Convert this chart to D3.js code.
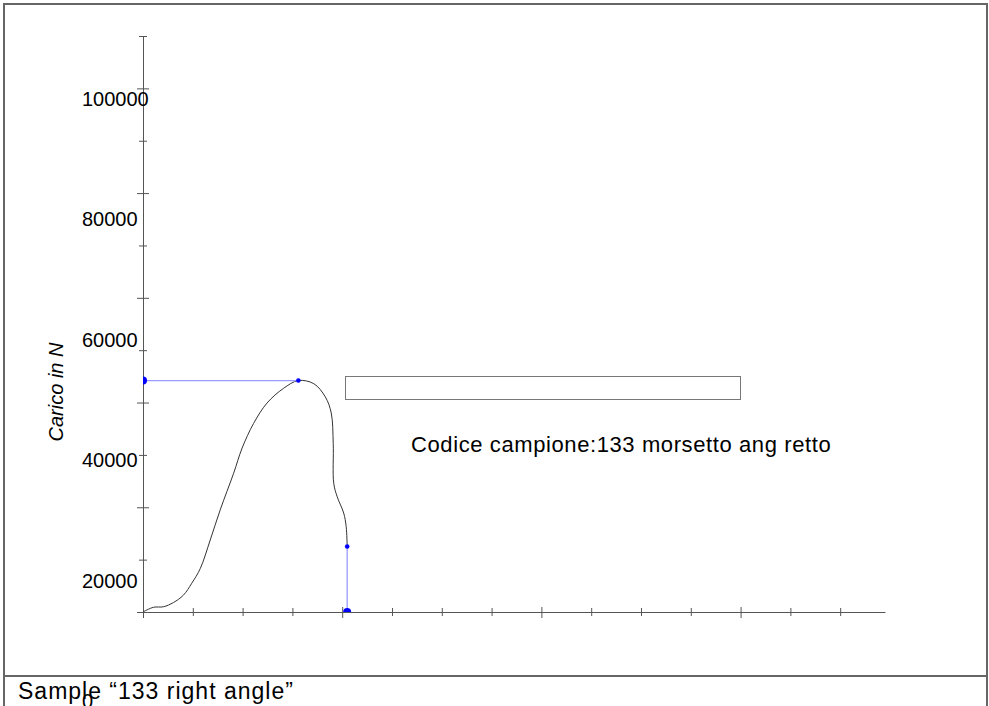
<!DOCTYPE html>
<html>
<head>
<meta charset="utf-8">
<script src="https://cdn.jsdelivr.net/npm/d3@7/dist/d3.min.js"></script>
<style>
  body { margin: 0; background: #fff; }
  svg { display: block; font-family: "Liberation Sans", Arial, Helvetica, sans-serif; }
</style>
</head>
<body>
<script>
// curve: elongation (axis units) vs load (N)
const elongation = [0, 0.21, 0.41, 0.61, 0.81, 0.98, 1.15, 1.35, 1.55, 1.82, 1.99, 2.22, 2.49, 2.82, 3.12,
  3.43, 3.66, 3.78, 3.82, 3.83, 3.90, 4.03, 4.08, 4.10];
const load = [0, 900, 1000, 1800, 3200, 5500, 8300, 13750, 19500, 26500, 31300, 36000, 39900, 42700, 44200,
  43600, 41100, 38000, 32200, 24600, 22000, 18900, 16300, 12500];
const peak = [3.12, 44200];
const rupture = [4.10, 12500];
const loadTicks = [0, 10000, 20000, 30000, 40000, 50000, 60000, 70000, 80000, 90000, 100000, 110000];
const loadLabels = [0, 20000, 40000, 60000, 80000, 100000];
const xTicks = [0, 1, 2, 3, 4, 5, 6, 7, 8, 9, 10, 11, 12, 13, 14];
const yTitle = "Carico in N";
const sampleCode = "Codice campione:133 morsetto ang retto";
const caption = "Sample \u201c133 right angle\u201d";

const w = 989;
const h = 706;
const svg = d3.select("body").append("svg").attr("width", w).attr("height", h);

const xScale = d3.scaleLinear().domain([0, 14.9]).range([143, 885]);
const yScale = d3.scaleLinear().domain([0, 110000]).range([612, 36]);
// the labels in the original sit on their own, slightly stretched, spacing
const labelScale = d3.scaleLinear().domain([0, 100000]).range([708, 106]);

// frame
svg.append("rect").attr("x", 4).attr("y", 4).attr("width", 983).attr("height", 720)
  .attr("fill", "none").attr("stroke", "#666").attr("stroke-width", 2);
svg.append("line").attr("x1", 4).attr("x2", 987).attr("y1", 676).attr("y2", 676)
  .attr("stroke", "#666").attr("stroke-width", 2);

// axes
const yAxis = svg.append("g").attr("transform", "translate(143,0)").attr("color", "#555")
  .call(d3.axisLeft(yScale).tickValues(loadTicks).tickSizeOuter(0).tickFormat(""));
yAxis.selectAll(".tick line")
  .attr("x1", (d) => (d % 20000 === 0 ? 6 : 4))
  .attr("x2", (d) => (d % 20000 === 0 ? -6 : -4));

const xAxis = svg.append("g").attr("transform", "translate(0,612)").attr("color", "#555")
  .call(d3.axisBottom(xScale).tickValues(xTicks).tickSizeOuter(0).tickFormat(""));
xAxis.selectAll(".tick line")
  .attr("y1", (d) => (d % 4 === 0 ? -5 : -4))
  .attr("y2", (d) => (d % 4 === 0 ? 6 : 4));

svg.append("g").selectAll("text").data(loadLabels).enter().append("text")
  .attr("x", 82).attr("y", (d) => labelScale(d))
  .attr("font-size", 20).attr("fill", "#000")
  .text((d) => d);

svg.append("text")
  .attr("transform", "translate(63,392) rotate(-90)")
  .attr("text-anchor", "middle").attr("font-size", 20).attr("font-style", "italic")
  .text(yTitle);

// plot area
svg.append("clipPath").attr("id", "plot")
  .append("rect").attr("x", 143).attr("y", 30).attr("width", 745).attr("height", 582);
const plot = svg.append("g").attr("clip-path", "url(#plot)");

const pts = elongation.map((e, i) => [e, load[i]]);
plot.append("path").datum(pts)
  .attr("fill", "none").attr("stroke", "#333").attr("stroke-width", 1)
  .attr("d", d3.line().x((d) => xScale(d[0])).y((d) => yScale(d[1])).curve(d3.curveCatmullRom));

const blue = "#0000ff";
const lightBlue = "#9a9aff";
plot.append("line")
  .attr("x1", xScale(0)).attr("x2", xScale(peak[0]))
  .attr("y1", yScale(peak[1])).attr("y2", yScale(peak[1]))
  .attr("stroke", lightBlue).attr("stroke-width", 1.3);
plot.append("line")
  .attr("x1", xScale(rupture[0])).attr("x2", xScale(rupture[0]))
  .attr("y1", yScale(rupture[1])).attr("y2", yScale(0))
  .attr("stroke", lightBlue).attr("stroke-width", 1.3);

const markers = [
  [0, peak[1], 4],
  [peak[0], peak[1], 2.3],
  [rupture[0], rupture[1], 2.3],
  [rupture[0], 0, 4]
];
plot.selectAll("circle").data(markers).enter().append("circle")
  .attr("cx", (d) => xScale(d[0])).attr("cy", (d) => yScale(d[1])).attr("r", (d) => d[2])
  .attr("fill", blue);

// empty legend box and sample code
svg.append("rect").attr("x", 345.5).attr("y", 376.5).attr("width", 395).attr("height", 23)
  .attr("fill", "none").attr("stroke", "#777").attr("stroke-width", 1);
svg.append("text").attr("x", 411).attr("y", 452)
  .attr("font-size", 22).attr("letter-spacing", 0.6).text(sampleCode);

svg.append("text").attr("x", 18).attr("y", 699)
  .attr("font-size", 23).attr("letter-spacing", 1).text(caption);
</script>
</body>
</html>
